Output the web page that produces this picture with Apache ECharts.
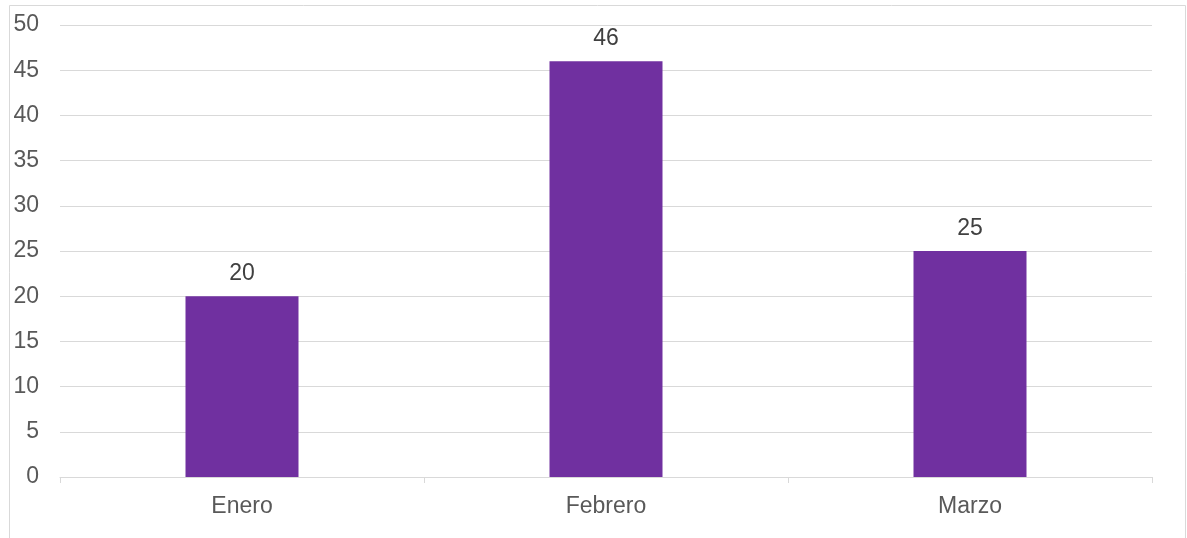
<!DOCTYPE html>
<html>
<head>
<meta charset="utf-8">
<script src="https://cdn.jsdelivr.net/npm/echarts@6/dist/echarts.min.js"></script>
<style>html,body{margin:0;padding:0;background:#fff;}#c{width:1187px;height:538px;}</style>
</head>
<body>
<div id="c"></div>
<script>
const categories = ['Enero', 'Febrero', 'Marzo'];
const values = [20, 46, 25];
const yTicks = { min: 0, max: 50, interval: 5 };

const FONT = 'Liberation Sans, Arial, sans-serif';
const chart = echarts.init(document.getElementById('c'), null, { renderer: 'canvas' });
chart.setOption({
  animation: false,
  backgroundColor: '#ffffff',
  graphic: [{
    type: 'rect',
    shape: { x: 9.5, y: 5.5, width: 1176, height: 560 },
    style: { fill: 'none', stroke: '#d9d9d9', lineWidth: 1 },
    silent: true
  }],
  grid: { left: 60, right: 35, top: 25, bottom: 61, containLabel: false },
  xAxis: {
    type: 'category',
    data: categories,
    axisLine: { show: true, lineStyle: { color: '#d9d9d9', width: 1 } },
    axisTick: { show: true, length: 6, lineStyle: { color: '#d9d9d9' } },
    axisLabel: { color: '#595959', fontSize: 23, fontFamily: FONT, margin: 18 }
  },
  yAxis: {
    type: 'value',
    min: yTicks.min, max: yTicks.max, interval: yTicks.interval,
    axisLine: { show: false },
    axisTick: { show: false },
    splitLine: { lineStyle: { color: '#d9d9d9', width: 1 } },
    axisLabel: { color: '#595959', fontSize: 23, fontFamily: FONT, margin: 21 }
  },
  series: [{
    type: 'bar',
    data: values,
    barWidth: 113,
    itemStyle: { color: '#7030A0' },
    label: {
      show: true, position: 'top', distance: 11,
      color: '#404040', fontSize: 23, fontFamily: FONT
    }
  }]
});
</script>
</body>
</html>
